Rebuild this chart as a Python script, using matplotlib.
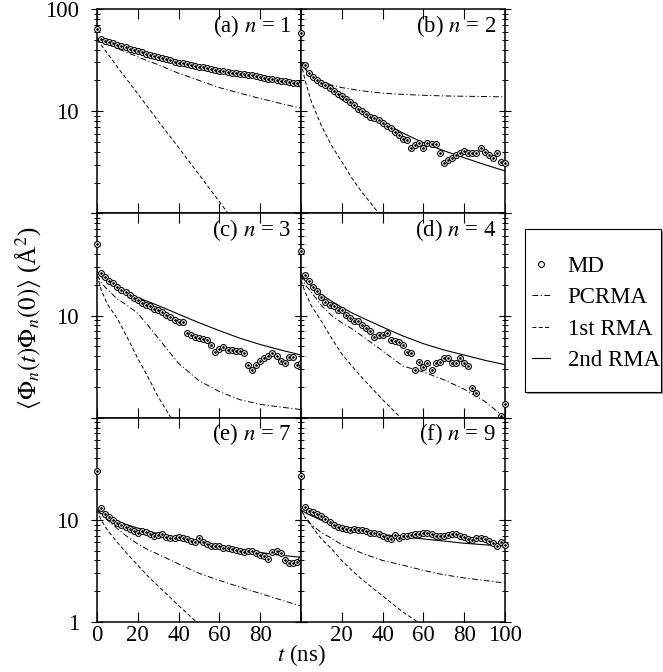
import numpy as np
import matplotlib
matplotlib.use("Agg")
import matplotlib.pyplot as plt
from matplotlib.lines import Line2D
from matplotlib.patches import Rectangle

plt.rcParams["font.family"] = ["Liberation Serif", "DejaVu Serif"]
plt.rcParams["mathtext.fontset"] = "stix"

# time grids (ns)
T_MD = list(range(0, 101, 2))
T_CURVE = [0, 2, 5, 10, 15, 20, 25, 30, 40, 50, 60, 70, 80, 90, 100]

# ----- MD points, one value every 2 ns -----
MD_A = [63.7, 50.5, 49.0, 47.5, 46.0, 44.5, 43.2, 42.0, 40.8, 39.7, 38.6, 37.6, 36.6,
        35.6, 34.7, 33.8, 33.0, 32.2, 31.4, 30.6, 29.9, 29.3, 28.7, 28.2, 27.7, 27.2,
        26.8, 26.3, 25.9, 25.5, 25.0, 24.6, 24.2, 23.9, 23.6, 23.3, 23.0, 22.7, 22.4,
        22.0, 21.6, 21.2, 20.8, 20.5, 20.2, 19.9, 19.6, 19.3, 19.0, 18.8, 18.5]
MD_B = [58.0, 28.2, 23.5, 21.7, 20.2, 19.0, 18.0, 16.8, 15.8, 14.8, 14.0, 13.1, 12.3,
        11.4, 10.6, 10.0, 9.4, 8.8, 8.5, 8.2, 7.7, 7.2, 6.8, 6.3, 5.9, 5.3,
        5.2, 4.4, 4.7, 4.9, 4.4, 4.9, 4.8, 4.8, 3.9, 3.1, 3.3, 3.5, 3.7,
        3.9, 4.1, 3.9, 3.9, 3.9, 4.4, 4.0, 3.7, 3.5, 3.9, 3.2, 3.1]
MD_C = [49.6, 26.0, 23.8, 22.0, 20.7, 19.2, 17.9, 16.8, 15.8, 14.8, 14.1, 13.4, 12.8,
        12.3, 11.7, 11.2, 10.7, 10.2, 9.6, 9.0, 8.6, 8.6, 6.8, 6.4, 6.2, 6.0,
        5.9, 5.8, 5.2, 4.4, 4.7, 4.9, 4.6, 4.6, 4.5, 4.5, 4.3, 3.3, 2.9,
        3.3, 3.6, 3.8, 4.0, 4.3, 4.0, 3.6, 3.4, 3.9, 3.9, 3.3, 3.4]
MD_D = [42.4, 24.7, 21.6, 19.2, 17.2, 15.3, 13.7, 12.8, 12.3, 11.4, 11.2, 10.2, 9.5,
        8.8, 8.8, 8.1, 7.5, 7.0, 6.2, 6.4, 6.4, 6.7, 5.8, 5.6, 5.5, 5.1,
        4.4, 4.3, 2.95, 3.5, 3.1, 3.4, 2.9, 3.4, 3.5, 3.8, 3.8, 3.4, 3.4,
        3.8, 3.4, 3.2, 1.97, 1.76, 0.8, 0.7, 0.75, 0.8, 0.9, 1.05, 1.36]
MD_E = [30.2, 13.2, 11.4, 10.6, 9.9, 9.3, 8.9, 8.6, 8.1, 7.8, 7.5, 7.7, 7.6,
        7.3, 7.0, 7.1, 7.3, 6.8, 6.6, 6.7, 6.8, 6.7, 6.5, 6.2, 6.0, 6.6,
        6.1, 5.8, 5.5, 5.6, 5.5, 5.3, 5.3, 5.2, 5.1, 4.9, 4.8, 5.0, 5.0,
        4.7, 4.5, 4.4, 4.1, 4.8, 5.0, 4.7, 4.0, 3.8, 3.8, 3.9, 4.1]
MD_F = [27.0, 13.4, 12.3, 11.8, 11.3, 10.8, 10.2, 9.6, 9.0, 8.6, 8.4, 8.2, 8.0,
        8.2, 8.0, 7.9, 7.7, 7.5, 7.5, 7.3, 7.0, 6.7, 6.5, 7.1, 6.6, 7.0,
        7.0, 7.1, 7.2, 7.2, 7.4, 7.5, 7.2, 7.0, 7.0, 7.0, 7.1, 7.2, 7.3,
        7.0, 6.8, 6.5, 6.4, 6.6, 6.7, 6.5, 6.2, 5.9, 5.6, 6.0, 5.7]

# ----- model curves on T_CURVE -----
PC_A = [50, 48, 45.5, 41, 37.5, 34, 31, 28.5, 23.5, 20, 17, 15, 13.3, 11.9, 10.7]
R1_A = [50, 44.5, 37, 27, 20, 14.8, 10.9, 8.0, 4.4, 2.4, 1.3, 0.7, 0.38, 0.2, 0.11]
R2_A = [52, 50, 47.5, 44, 41, 38.5, 36, 33.8, 30, 27.2, 25, 23.2, 21.5, 20, 18.5]

PC_B = [30, 26, 22, 19.5, 18, 17, 16.4, 15.8, 15, 14.6, 14.3, 14.1, 14.0, 13.9, 13.8]
R1_B = [30, 20, 12.5, 7.2, 4.6, 3.2, 2.2, 1.6, 0.9, 0.5, 0.3, 0.2, 0.12, 0.08, 0.05]
R2_B = [30, 26, 22, 18.5, 15.5, 13, 11.3, 10, 7.9, 6.1, 4.9, 4.1, 3.5, 3.0, 2.6]

PC_C = [25, 21, 18, 14.5, 12.5, 10.5, 8, 6, 3.4, 2.3, 1.8, 1.5, 1.35, 1.27, 1.2]
R1_C = [25, 18, 13, 9.3, 6, 3.8, 2.5, 1.6, 0.75, 0.4, 0.2, 0.1, 0.05, 0.03, 0.02]
R2_C = [27, 24, 21.5, 18.5, 16.5, 15, 13.7, 12.5, 10.3, 8.5, 7.1, 6.0, 5.2, 4.6, 4.1]

PC_D = [25, 20, 17, 12.5, 10, 8.5, 7.4, 6.3, 4.5, 3.2, 2.8, 2.35, 1.9, 1.45, 1.0]
R1_D = [22, 17, 12.5, 8.8, 6, 4.2, 3.2, 2.45, 1.5, 0.95, 0.6, 0.4, 0.25, 0.16, 0.1]
R2_D = [25, 22, 19.5, 16, 13.8, 12, 10.6, 9.5, 7.7, 6.3, 5.3, 4.6, 4.1, 3.65, 3.3]

PC_E = [12.5, 11.3, 10, 8.2, 6.8, 5.8, 5.1, 4.6, 3.7, 3.0, 2.55, 2.2, 1.9, 1.65, 1.43]
R1_E = [12.5, 10, 8, 6.0, 4.6, 3.6, 2.8, 2.25, 1.45, 0.95, 0.62, 0.4, 0.26, 0.17, 0.11]
R2_E = [12.5, 11.5, 10.8, 9.7, 8.9, 8.3, 7.8, 7.3, 6.6, 6.0, 5.5, 5.1, 4.8, 4.5, 4.3]

PC_F = [12.5, 10.8, 9, 7.5, 6.6, 5.7, 5.2, 4.7, 4.0, 3.6, 3.2, 2.9, 2.7, 2.55, 2.4]
R1_F = [12.5, 10.5, 8.8, 6.5, 5.2, 4.0, 3.2, 2.6, 1.8, 1.25, 0.92, 0.68, 0.5, 0.37, 0.27]
R2_F = [12.5, 11.8, 11, 9.9, 9.1, 8.5, 8.1, 7.8, 7.2, 6.8, 6.5, 6.2, 5.9, 5.7, 5.5]

PANEL_TAGS = ["(a)", "(b)", "(c)", "(d)", "(e)", "(f)"]
MODES = [1, 2, 3, 4, 7, 9]
MD_ALL = [MD_A, MD_B, MD_C, MD_D, MD_E, MD_F]
PC_ALL = [PC_A, PC_B, PC_C, PC_D, PC_E, PC_F]
R1_ALL = [R1_A, R1_B, R1_C, R1_D, R1_E, R1_F]
R2_ALL = [R2_A, R2_B, R2_C, R2_D, R2_E, R2_F]

FS = 16.5
DASHDOT = (0, (6, 2.5, 1.2, 2.5))
DASHED = (0, (4, 2.5))

W, H = 663, 672
fig = plt.figure(figsize=(W / 100, H / 100), dpi=100)
gs = fig.add_gridspec(3, 2, left=97 / W, right=505 / W, top=1 - 9 / H,
                      bottom=1 - 622 / H, hspace=0, wspace=0)

for k in range(6):
    row, col = divmod(k, 2)
    ax = fig.add_subplot(gs[row, col])
    ax.set_yscale("log")
    ax.set_xlim(0, 100)
    ax.set_ylim(1, 100)

    md = np.ma.masked_less(np.array(MD_ALL[k]), 1.0)
    ax.plot(T_CURVE, PC_ALL[k], color="black", lw=0.7, ls=DASHDOT)
    ax.plot(T_CURVE, R1_ALL[k], color="black", lw=0.7, ls=DASHED)
    ax.plot(T_CURVE, R2_ALL[k], color="black", lw=0.8, ls="-")
    ax.plot(T_MD, md, ls="none", marker="o", ms=4.2, mfc="white", mec="black",
            mew=0.8, clip_on=False, zorder=4)
    ax.plot(T_MD, md, ls="none", marker="o", ms=0.9, color="black",
            clip_on=False, zorder=5)

    ax.text(0.955, 0.918, f"{PANEL_TAGS[k]} $n$ = {MODES[k]}", transform=ax.transAxes,
            ha="right", va="center", fontsize=FS)

    # ticks
    ax.set_xticks([0, 20, 40, 60, 80, 100])
    ax.tick_params(axis="x", which="major", direction="in", length=7, width=0.8,
                   top=True, bottom=True, labelsize=FS, pad=2)
    ax.tick_params(axis="x", which="minor", bottom=False, top=False)
    ax.tick_params(axis="y", which="major", direction="inout", length=8, width=0.8,
                   left=True, right=True, labelsize=FS, pad=9)
    ax.tick_params(axis="y", which="minor", direction="inout", length=5, width=0.7,
                   left=True, right=True)
    ax.set_yticks([1, 10, 100])

    if row == 2:
        xl = ["0", "20", "40", "60", "80", ""] if col == 0 else ["", "20", "40", "60", "80", "100"]
        ax.set_xticklabels(xl)
    else:
        ax.set_xticklabels([])

    if col == 0:
        if row == 0:
            ax.set_yticklabels(["", "10", "100"])
        elif row == 1:
            ax.set_yticklabels(["", "10", ""])
        else:
            ax.set_yticklabels(["1", "10", ""])
    else:
        ax.set_yticklabels([])

    for s in ax.spines.values():
        s.set_linewidth(1.1)

fig.text(28 / W, 1 - 318 / H,
         r"$\langle\mathit{\Phi}_n(t)\mathit{\Phi}_n(0)\rangle$ (Å$^2$)",
         rotation=90, ha="center", va="center", fontsize=18)
fig.text(301 / W, 1 - 655 / H, r"$t$ (ns)", ha="center", va="center", fontsize=FS)

# legend frame with a slight grey shadow
fig.patches.append(Rectangle((527 / W, 1 - 394 / H), 136 / W, 163 / H,
                             transform=fig.transFigure, facecolor="0.6",
                             edgecolor="none", zorder=1))
fig.patches.append(Rectangle((525 / W, 1 - 392 / H), 136 / W, 163 / H,
                             transform=fig.transFigure, facecolor="white",
                             edgecolor="black", lw=0.8, zorder=2))

handles = [
    Line2D([], [], ls="none", marker="o", ms=4.2, mfc="white", mec="black", mew=0.8),
    Line2D([], [], color="black", lw=0.7, ls=DASHDOT),
    Line2D([], [], color="black", lw=0.7, ls=DASHED),
    Line2D([], [], color="black", lw=0.8, ls="-"),
]
labels = ["MD", "PCRMA", "1st RMA", "2nd RMA"]
leg = fig.legend(handles, labels, loc="upper left",
                 bbox_to_anchor=(532 / W, 1 - 256 / H), bbox_transform=fig.transFigure,
                 fontsize=FS, frameon=False, handlelength=0.8, handletextpad=0.75,
                 labelspacing=0.45, borderpad=0, borderaxespad=0)
leg.set_zorder(3)

fig.savefig("out.png", dpi=100)
